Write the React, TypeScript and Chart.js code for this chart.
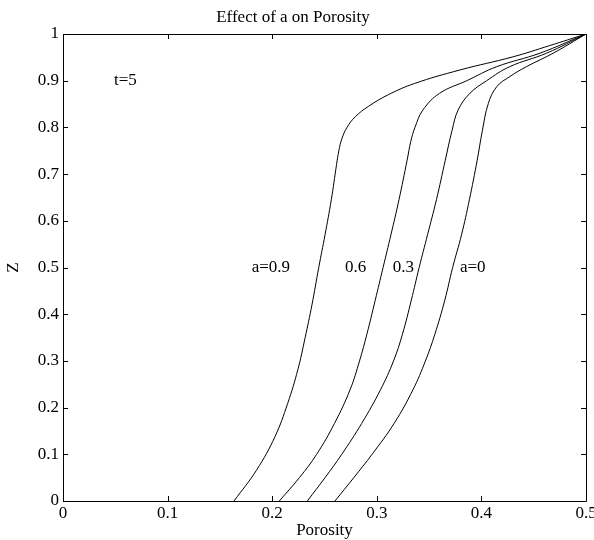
import React, { useEffect, useRef } from "react";
import { Chart, registerables } from "chart.js";

Chart.register(...registerables);

// Porosity (x) and Z (y) for each value of a
const porosityA09 = [0.1635, 0.185, 0.2027, 0.2148, 0.2245, 0.2315, 0.238, 0.2445, 0.2505, 0.2565, 0.2615, 0.2637, 0.2665, 0.2715, 0.2795, 0.292, 0.311, 0.336, 0.3795, 0.43, 0.465, 0.5];
const zA09 = [0, 0.066, 0.138, 0.209, 0.281, 0.35, 0.42, 0.5, 0.57, 0.645, 0.72, 0.75, 0.775, 0.8, 0.823, 0.845, 0.87, 0.894, 0.923, 0.951, 0.975, 1];

const porosityA06 = [0.2068, 0.226, 0.2425, 0.2595, 0.2744, 0.2835, 0.2905, 0.2985, 0.306, 0.3135, 0.3212, 0.329, 0.3325, 0.3365, 0.344, 0.36, 0.386, 0.4146, 0.456, 0.5];
const zA06 = [0, 0.05, 0.1, 0.166, 0.238, 0.3, 0.357, 0.43, 0.5, 0.57, 0.645, 0.73, 0.77, 0.8, 0.837, 0.873, 0.9, 0.93, 0.959, 1];

const porosityA03 = [0.2336, 0.2505, 0.2665, 0.2855, 0.3035, 0.316, 0.3245, 0.333, 0.3405, 0.3485, 0.357, 0.3655, 0.372, 0.3777, 0.389, 0.405, 0.427, 0.4624, 0.5];
const zA03 = [0, 0.05, 0.1, 0.166, 0.238, 0.3, 0.357, 0.43, 0.5, 0.57, 0.645, 0.73, 0.794, 0.837, 0.873, 0.9, 0.93, 0.959, 1];

const porosityA0 = [0.26, 0.278, 0.2955, 0.3165, 0.3345, 0.3465, 0.3555, 0.365, 0.3725, 0.381, 0.3885, 0.396, 0.401, 0.4066, 0.4146, 0.4273, 0.443, 0.4687, 0.5];
const zA0 = [0, 0.05, 0.1, 0.166, 0.238, 0.3, 0.357, 0.43, 0.5, 0.57, 0.645, 0.73, 0.794, 0.851, 0.887, 0.909, 0.93, 0.959, 1];

const seriesNames = ["a=0.9", "a=0.6", "a=0.3", "a=0"];

const xTicks = [0, 0.1, 0.2, 0.3, 0.4, 0.5];
const yTicks = [0, 0.1, 0.2, 0.3, 0.4, 0.5, 0.6, 0.7, 0.8, 0.9, 1];

// in-plot text labels (data coordinates, left-aligned)
const noteTexts = ["t=5", "a=0.9", "0.6", "0.3", "a=0"];
const noteX = [0.0488, 0.1804, 0.2696, 0.3152, 0.3795];
const noteY = [0.9, 0.5, 0.5, 0.5, 0.5];

const FONT = "'Liberation Serif', 'Times New Roman', serif";

function toPoints(xs: number[], ys: number[]) {
  return xs.map((x, i) => ({ x, y: ys[i] }));
}

const framePlugin = {
  id: "matlabFrame",
  afterDraw(chart: any) {
    const { ctx, chartArea } = chart;
    const xs = chart.scales.x;
    const ys = chart.scales.y;
    const { left, right, top, bottom } = chartArea;
    ctx.save();
    ctx.strokeStyle = "#000";
    ctx.lineWidth = 1;
    ctx.beginPath();
    ctx.rect(Math.round(left) + 0.5, Math.round(top) + 0.5, Math.round(right - left), Math.round(bottom - top));
    ctx.stroke();
    const tl = 5;
    ctx.beginPath();
    xTicks.forEach((v) => {
      const px = Math.round(xs.getPixelForValue(v)) + 0.5;
      ctx.moveTo(px, bottom);
      ctx.lineTo(px, bottom - tl);
      ctx.moveTo(px, top);
      ctx.lineTo(px, top + tl);
    });
    yTicks.forEach((v) => {
      const py = Math.round(ys.getPixelForValue(v)) + 0.5;
      ctx.moveTo(left, py);
      ctx.lineTo(left + tl, py);
      ctx.moveTo(right, py);
      ctx.lineTo(right - tl, py);
    });
    ctx.stroke();
    ctx.fillStyle = "#000";
    ctx.font = "17px " + FONT;
    ctx.textAlign = "left";
    ctx.textBaseline = "middle";
    noteTexts.forEach((t, i) => {
      ctx.fillText(t, xs.getPixelForValue(noteX[i]), ys.getPixelForValue(noteY[i]));
    });
    ctx.restore();
  },
};

export default function App() {
  const ref = useRef<HTMLCanvasElement | null>(null);
  useEffect(() => {
    if (!ref.current) return;
    const seriesX = [porosityA09, porosityA06, porosityA03, porosityA0];
    const seriesY = [zA09, zA06, zA03, zA0];
    const chart = new Chart(ref.current, {
      type: "line",
      data: {
        datasets: seriesNames.map((name, i) => ({
          label: name,
          data: toPoints(seriesX[i], seriesY[i]),
          borderColor: "#000",
          borderWidth: 1,
          pointRadius: 0,
          fill: false,
          tension: 0.4,
        })),
      },
      options: {
        animation: false,
        responsive: false,
        layout: { padding: { left: 0, right: 8, top: 0, bottom: 0 } },
        plugins: {
          legend: { display: false },
          tooltip: { enabled: false },
          title: {
            display: true,
            text: "Effect of a on Porosity",
            color: "#000",
            font: { family: FONT, size: 17, weight: "normal", lineHeight: 1.2 },
            padding: { top: 7, bottom: 6.6 },
          },
        },
        scales: {
          x: {
            type: "linear",
            min: 0,
            max: 0.5,
            grid: { display: false, drawTicks: false },
            border: { display: false },
            afterBuildTicks: (s: any) => {
              s.ticks = xTicks.map((v) => ({ value: v }));
            },
            afterFit: (s: any) => {
              s.height = 39;
              s.paddingLeft = 0;
              s.paddingRight = 0;
            },
            ticks: {
              color: "#000",
              padding: 2,
              maxRotation: 0,
              autoSkip: false,
              font: { family: FONT, size: 17 },
              callback: (v: any) => String(Number(v)),
            },
            title: {
              display: true,
              text: "Porosity",
              color: "#000",
              font: { family: FONT, size: 17, lineHeight: 1 },
              padding: { top: 0, bottom: 0.5 },
            },
          },
          y: {
            type: "linear",
            min: 0,
            max: 1,
            grid: { display: false, drawTicks: false },
            border: { display: false },
            afterBuildTicks: (s: any) => {
              s.ticks = yTicks.map((v) => ({ value: v }));
            },
            afterFit: (s: any) => {
              s.width = 63;
              s.paddingTop = 0;
              s.paddingBottom = 0;
            },
            ticks: {
              color: "#000",
              padding: 4,
              autoSkip: false,
              font: { family: FONT, size: 17 },
              callback: (v: any) => String(Number(v)),
            },
            title: {
              display: true,
              text: "Z",
              color: "#000",
              font: { family: FONT, size: 17, lineHeight: 1 },
              padding: { top: 5.5, bottom: 0 },
            },
          },
        },
      },
      plugins: [framePlugin],
    });
    return () => chart.destroy();
  }, []);
  return (
    <div style={{ position: "absolute", left: 0, top: 0, width: 594, height: 540, background: "#fff" }}>
      <canvas ref={ref} width={594} height={540} style={{ display: "block" }} />
    </div>
  );
}
